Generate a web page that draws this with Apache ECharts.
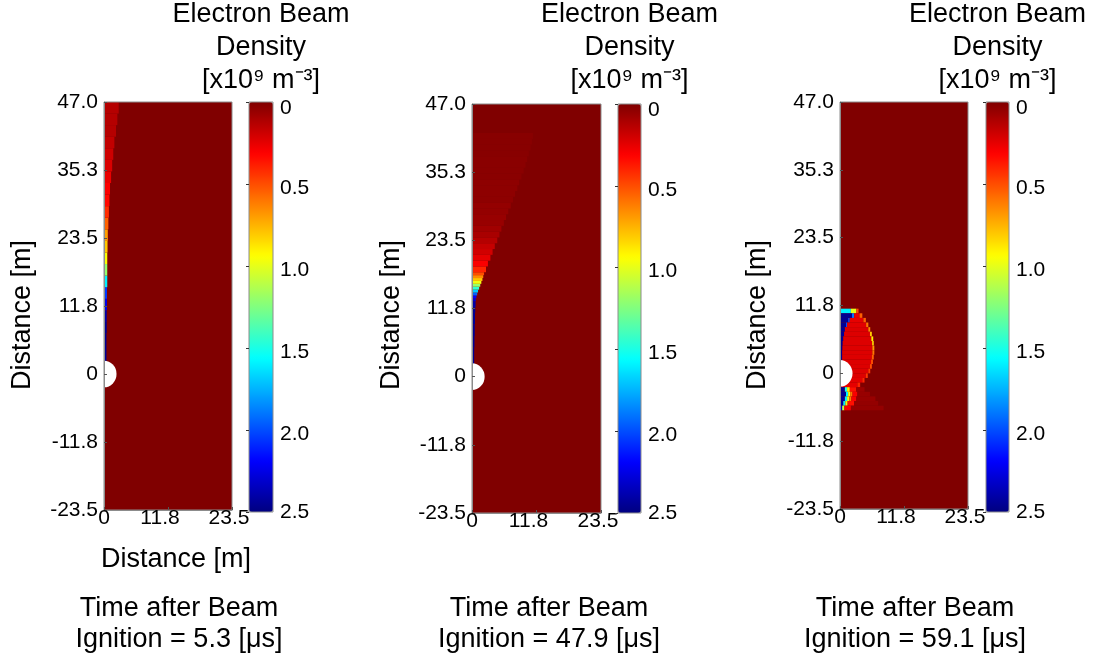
<!DOCTYPE html>
<html>
<head>
<meta charset="utf-8">
<script src="https://cdn.jsdelivr.net/npm/echarts@6/dist/echarts.min.js"></script>
<style>html,body{margin:0;padding:0;background:#fff;}#c{width:1095px;height:661px;}</style>
</head>
<body>
<div id="c"></div>
<script>
// ---------- data ----------
const yTicks = ['-23.5', '-11.8', '0', '11.8', '23.5', '35.3', '47.0'];
const xTicks = ['0', '11.8', '23.5'];
const cbTicks = ['0', '0.5', '1.0', '1.5', '2.0', '2.5'];
const titleLines = ['Electron Beam', 'Density', '[x10\u2079 m\u207b\u00b3]'];
const xName = 'Distance [m]';
const yName = 'Distance [m]';
const times = ['5.3', '47.9', '59.1'];
const domainX = [0, 23.5];
const domainY = [-23.5, 47];
const densityRange = [0, 2.5];
// background cell (whole domain, density 0): [x0, x1, y0, y1, value]
const background = [0, 23.5, -23.5, 47, 0];
// target (white disc) : [cx, cy, r]
const target = [0, 0, 2.3];

// panel 1 (t = 5.3 us) : [x0, x1, y0, y1, density]
const field1 = [
  [0, 0.45, 2, 5, 2.45], [0, 0.45, 5, 7, 2.45], [0, 0.5, 7, 9, 2.45], [0, 0.5, 9, 11, 2.4],
  [0, 0.55, 11, 13, 2.25], [0, 0.55, 13, 15, 2.05], [0, 0.6, 15, 17, 1.6], [0, 0.6, 17, 19, 1.2],
  [0, 0.6, 19, 21, 0.95], [0, 0.65, 21, 23, 0.8], [0, 0.7, 23, 25, 0.7], [0, 0.8, 25, 27, 0.55],
  [0, 0.9, 27, 29, 0.42], [0, 1.0, 29, 31, 0.33], [0, 1.1, 31, 33, 0.3], [0, 1.3, 33, 35, 0.26],
  [0, 1.5, 35, 37, 0.22], [0, 1.7, 37, 39, 0.19], [0, 1.9, 39, 41, 0.16], [0, 2.2, 41, 43, 0.13],
  [0, 2.45, 43, 45, 0.13], [0, 2.7, 45, 47, 0.13]
];
// panel 2 (t = 47.9 us)
const field2 = [
  [0, 0.4, 2, 5, 2.45], [0, 0.45, 5, 7, 2.45], [0, 0.5, 7, 9, 2.45], [0, 0.55, 9, 11, 2.45],
  [0, 0.6, 11, 12, 2.45], [0, 0.65, 12, 13, 2.4],
  [0, 0.7, 13, 13.5, 2.3], [0, 0.8, 13.5, 14, 2.2], [0, 0.95, 14, 14.5, 1.95], [0, 1.1, 14.5, 15, 1.7],
  [0, 1.3, 15, 15.5, 1.45], [0, 1.5, 15.5, 16, 1.2], [0, 1.7, 16, 16.5, 0.98], [0, 1.9, 16.5, 17, 0.8],
  [0, 2.05, 17, 17.5, 0.65], [0, 2.2, 17.5, 18, 0.5], [0, 2.55, 18, 19, 0.4], [0, 2.9, 19, 20, 0.3],
  [0, 3.35, 20, 21, 0.25], [0, 3.75, 21, 22, 0.2], [0, 4.15, 22, 23, 0.17], [0, 4.6, 23, 24, 0.13],
  [0, 5.0, 24, 25, 0.1], [0, 5.35, 25, 26, 0.08], [0, 5.8, 26, 27, 0.06], [0, 6.2, 27, 28, 0.06],
  [0, 6.6, 28, 29, 0.05], [0, 7.05, 29, 30, 0.05], [0, 7.45, 30, 31, 0.035], [0, 7.85, 31, 32, 0.035],
  [0, 8.25, 32, 33, 0.035], [0, 8.6, 33, 34, 0.035], [0, 9.0, 34, 35, 0.025], [0, 9.4, 35, 36, 0.025],
  [0, 9.75, 36, 37, 0.025], [0, 10.05, 37, 38, 0.025], [0, 10.35, 38, 39, 0.02], [0, 10.65, 39, 40, 0.02],
  [0, 10.9, 40, 41, 0.02], [0, 11.1, 41, 42, 0.02]
];
// panel 3 (t = 59.1 us)
const field3 = [
  [0, 2.0, 10.4, 11.2, 1.6], [2.0, 3.0, 10.4, 11.2, 1.0], [3.0, 3.4, 10.4, 11.2, 0.5],
  [0, 2.2, 9.6, 10.4, 2.45], [2.2, 2.6, 9.6, 10.4, 1.9], [2.6, 3.6, 9.6, 10.4, 0.25], [3.6, 4.1, 9.6, 10.4, 0.55],
  [0, 1.5, 8.8, 9.6, 2.45], [1.5, 1.8, 8.8, 9.6, 2.0], [1.8, 4.3, 8.8, 9.6, 0.25], [4.3, 4.75, 8.8, 9.6, 0.55],
  [0, 1.1, 8.0, 8.8, 2.45], [1.1, 1.3, 8.0, 8.8, 2.0], [1.3, 4.8, 8.0, 8.8, 0.24], [4.8, 5.2, 8.0, 8.8, 0.6],
  [0, 0.9, 7.2, 8.0, 2.45], [0.9, 5.2, 7.2, 8.0, 0.23], [5.2, 5.55, 7.2, 8.0, 0.65],
  [0, 0.75, 6.4, 7.2, 2.45], [0.75, 5.5, 6.4, 7.2, 0.23], [5.5, 5.85, 6.4, 7.2, 0.8],
  [0, 0.6, 5.6, 6.4, 2.45], [0.6, 5.75, 5.6, 6.4, 0.23], [5.75, 6.1, 5.6, 6.4, 0.9],
  [0, 0.5, 4.8, 5.6, 2.45], [0.5, 5.9, 4.8, 5.6, 0.23], [5.9, 6.2, 4.8, 5.6, 0.85],
  [0, 0.45, 4.0, 4.8, 2.45], [0.45, 5.95, 4.0, 4.8, 0.23], [5.95, 6.3, 4.0, 4.8, 0.7],
  [0, 0.4, 3.2, 4.0, 2.45], [0.4, 5.95, 3.2, 4.0, 0.23], [5.95, 6.3, 3.2, 4.0, 0.6],
  [0, 0.4, 2.4, 3.2, 2.45], [0.4, 5.85, 2.4, 3.2, 0.23], [5.85, 6.2, 2.4, 3.2, 0.55],
  [0, 0.4, 1.6, 2.4, 2.45], [0.4, 5.7, 1.6, 2.4, 0.23], [5.7, 6.05, 1.6, 2.4, 0.5],
  [0, 5.5, 0.8, 1.6, 0.23], [5.5, 5.85, 0.8, 1.6, 0.5],
  [0, 5.2, 0, 0.8, 0.23], [5.2, 5.55, 0, 0.8, 0.45],
  [0, 4.75, -0.8, 0, 0.23], [4.75, 5.1, -0.8, 0, 0.45],
  [0, 4.1, -1.6, -0.8, 0.24], [4.1, 4.5, -1.6, -0.8, 0.4],
  [0, 3.2, -2.4, -1.6, 0.25], [3.2, 3.7, -2.4, -1.6, 0.4],
  [0, 0.9, -3.2, -2.4, 2.45], [0.9, 1.3, -3.2, -2.4, 1.5], [1.3, 1.8, -3.2, -2.4, 0.9], [1.8, 3.0, -3.2, -2.4, 0.35], [3.0, 4.5, -3.2, -2.4, 0.07],
  [0, 1.1, -4.0, -3.2, 2.45], [1.1, 1.5, -4.0, -3.2, 1.6], [1.5, 1.9, -4.0, -3.2, 0.95], [1.9, 2.3, -4.0, -3.2, 0.6], [2.3, 3.2, -4.0, -3.2, 0.3], [3.2, 5.5, -4.0, -3.2, 0.06],
  [0, 0.9, -4.8, -4.0, 2.45], [0.9, 1.3, -4.8, -4.0, 1.6], [1.3, 1.7, -4.8, -4.0, 1.0], [1.7, 2.1, -4.8, -4.0, 0.6], [2.1, 3.0, -4.8, -4.0, 0.3], [3.0, 6.5, -4.8, -4.0, 0.06],
  [0, 0.6, -5.6, -4.8, 2.45], [0.6, 1.0, -5.6, -4.8, 1.6], [1.0, 1.4, -5.6, -4.8, 1.0], [1.4, 2.6, -5.6, -4.8, 0.35], [2.6, 7.0, -5.6, -4.8, 0.05],
  [0, 0.4, -6.4, -5.6, 2.3], [0.4, 0.8, -6.4, -5.6, 1.1], [0.8, 2.0, -6.4, -5.6, 0.3], [2.0, 8.0, -6.4, -5.6, 0.05]
];
const fields = [field1, field2, field3];

// ---------- layout & style ----------
const FONT = '"Liberation Sans", Arial, sans-serif';
const BIG = 27;
const jetRev = ['#800000', '#ff0000', '#ff8000', '#ffff00', '#80ff80', '#00ffff', '#0080ff', '#0000ff', '#000080'];
const plots = [
  { left: 104, top: 102, width: 128, height: 408 },
  { left: 472, top: 104, width: 129, height: 409 },
  { left: 840, top: 102, width: 128, height: 407 }
];
const bars = [
  { left: 249, top: 102, width: 24, height: 410 },
  { left: 618, top: 104, width: 23, height: 409 },
  { left: 986, top: 102, width: 23, height: 410 }
];
const yNameX = [23, 392, 758];
const bottomX = [179, 549, 915];

const chart = echarts.init(document.getElementById('c'), null, { renderer: 'canvas' });

function renderCell(params, api) {
  const p0 = api.coord([api.value(0), api.value(3)]);
  const p1 = api.coord([api.value(1), api.value(2)]);
  return {
    type: 'rect',
    shape: { x: p0[0], y: p0[1], width: p1[0] - p0[0], height: p1[1] - p0[1] },
    style: { fill: api.visual('color') }
  };
}
function renderDisc(params, api) {
  const c = api.coord([api.value(0), api.value(1)]);
  const s = api.size([api.value(2), api.value(2)]);
  return {
    type: 'circle',
    x: c[0], y: c[1], scaleY: s[1] / s[0],
    shape: { cx: 0, cy: 0, r: s[0] },
    style: { fill: '#ffffff' }
  };
}

const grid = [], xAxis = [], yAxis = [], series = [], visualMap = [], graphic = [];
const xRich = { a: {}, b: { padding: [0, 16, 0, 0] }, c: { padding: [0, 6, 0, 0] } };
const xKeys = ['a', 'b', 'c'];
const cbRich = { f: { padding: [12, 0, 0, 0] }, m: { padding: [8, 0, 0, 0] }, l: {} };

plots.forEach((p, i) => {
  grid.push(Object.assign({ show: true, borderColor: '#8c8c8c', borderWidth: 1, z: 5, backgroundColor: 'transparent' }, p));
  xAxis.push({
    gridIndex: i, type: 'value', min: domainX[0], max: domainX[1], interval: 11.75, z: 6,
    axisLine: { show: true, onZero: false, lineStyle: { color: '#8c8c8c' } },
    axisTick: { show: true, inside: true, length: 3, lineStyle: { color: '#555' } },
    splitLine: { show: false },
    axisLabel: {
      margin: -2, fontSize: 21, color: '#000', fontFamily: FONT, rich: xRich,
      formatter: (v) => { const k = Math.round((v - domainX[0]) / 11.75); return '{' + xKeys[k] + '|' + xTicks[k] + '}'; }
    }
  });
  yAxis.push({
    gridIndex: i, type: 'value', min: domainY[0], max: domainY[1], interval: 11.75, z: 6,
    axisLine: { show: true, onZero: false, lineStyle: { color: '#8c8c8c' } },
    axisTick: { show: true, inside: true, length: 3, lineStyle: { color: '#555' } },
    splitLine: { show: false },
    axisLabel: {
      margin: 6, fontSize: 21, color: '#000', fontFamily: FONT,
      formatter: (v) => yTicks[Math.round((v - domainY[0]) / 11.75)]
    }
  });
});
bars.forEach((b, j) => {
  const gi = 3 + j;
  grid.push(Object.assign({ show: true, borderColor: '#8c8c8c', borderWidth: 1, z: 10, backgroundColor: 'transparent' }, b));
  xAxis.push({ gridIndex: gi, type: 'value', min: 0, max: 1, show: false });
  yAxis.push({
    gridIndex: gi, type: 'value', min: densityRange[0], max: densityRange[1], interval: 0.5, inverse: true,
    position: 'right', z: 11,
    axisLine: { show: false },
    axisTick: { show: true, inside: true, length: 3, lineStyle: { color: '#333' } },
    splitLine: { show: false },
    axisLabel: {
      margin: 7, fontSize: 21, color: '#000', fontFamily: FONT, rich: cbRich,
      formatter: (v) => {
        const k = Math.round(v / 0.5);
        const key = k === 0 ? 'f' : (k === cbTicks.length - 1 ? 'l' : 'm');
        return '{' + key + '|' + cbTicks[k] + '}';
      }
    }
  });
  visualMap.push({
    type: 'continuous', seriesIndex: j, dimension: 4, min: densityRange[0], max: densityRange[1],
    inverse: true, calculable: false, orient: 'vertical', hoverLink: false, padding: 0,
    left: b.left, top: b.top, itemWidth: b.width, itemHeight: b.height,
    inRange: { color: jetRev }
  });
});
fields.forEach((f, i) => {
  series.push({
    type: 'custom', coordinateSystem: 'cartesian2d', xAxisIndex: i, yAxisIndex: i, clip: true, silent: true,
    dimensions: ['x0', 'x1', 'y0', 'y1', 'v'], encode: { x: [0, 1], y: [2, 3] },
    data: [background].concat(f), renderItem: renderCell, z: 2
  });
});
fields.forEach((f, i) => {
  series.push({
    type: 'custom', coordinateSystem: 'cartesian2d', xAxisIndex: i, yAxisIndex: i, clip: true, silent: true,
    dimensions: ['cx', 'cy', 'r'], encode: { x: 0, y: 1 },
    data: [target], renderItem: renderDisc, z: 3
  });
});

const titleY = [15, 48, 81];
bars.forEach((b, j) => {
  const cx = b.left + b.width / 2;
  titleLines.forEach((t, k) => {
    graphic.push({ type: 'text', x: cx, y: titleY[k], silent: true,
      style: { text: t, fontSize: BIG, fontFamily: FONT, fill: '#000', align: 'center', verticalAlign: 'middle' } });
  });
  graphic.push({ type: 'text', x: yNameX[j], y: 315, rotation: Math.PI / 2, silent: true,
    style: { text: yName, fontSize: BIG, fontFamily: FONT, fill: '#000', align: 'center', verticalAlign: 'middle' } });
  graphic.push({ type: 'text', x: bottomX[j], y: 609, silent: true,
    style: { text: 'Time after Beam', fontSize: BIG, fontFamily: FONT, fill: '#000', align: 'center', verticalAlign: 'middle' } });
  graphic.push({ type: 'text', x: bottomX[j], y: 640, silent: true,
    style: { text: 'Ignition = ' + times[j] + ' [\u03bcs]', fontSize: BIG, fontFamily: FONT, fill: '#000', align: 'center', verticalAlign: 'middle' } });
});
graphic.push({ type: 'text', x: 176, y: 560, silent: true,
  style: { text: xName, fontSize: BIG, fontFamily: FONT, fill: '#000', align: 'center', verticalAlign: 'middle' } });

chart.setOption({
  animation: false,
  backgroundColor: '#ffffff',
  grid, xAxis, yAxis, visualMap, series, graphic
});
</script>
</body>
</html>
